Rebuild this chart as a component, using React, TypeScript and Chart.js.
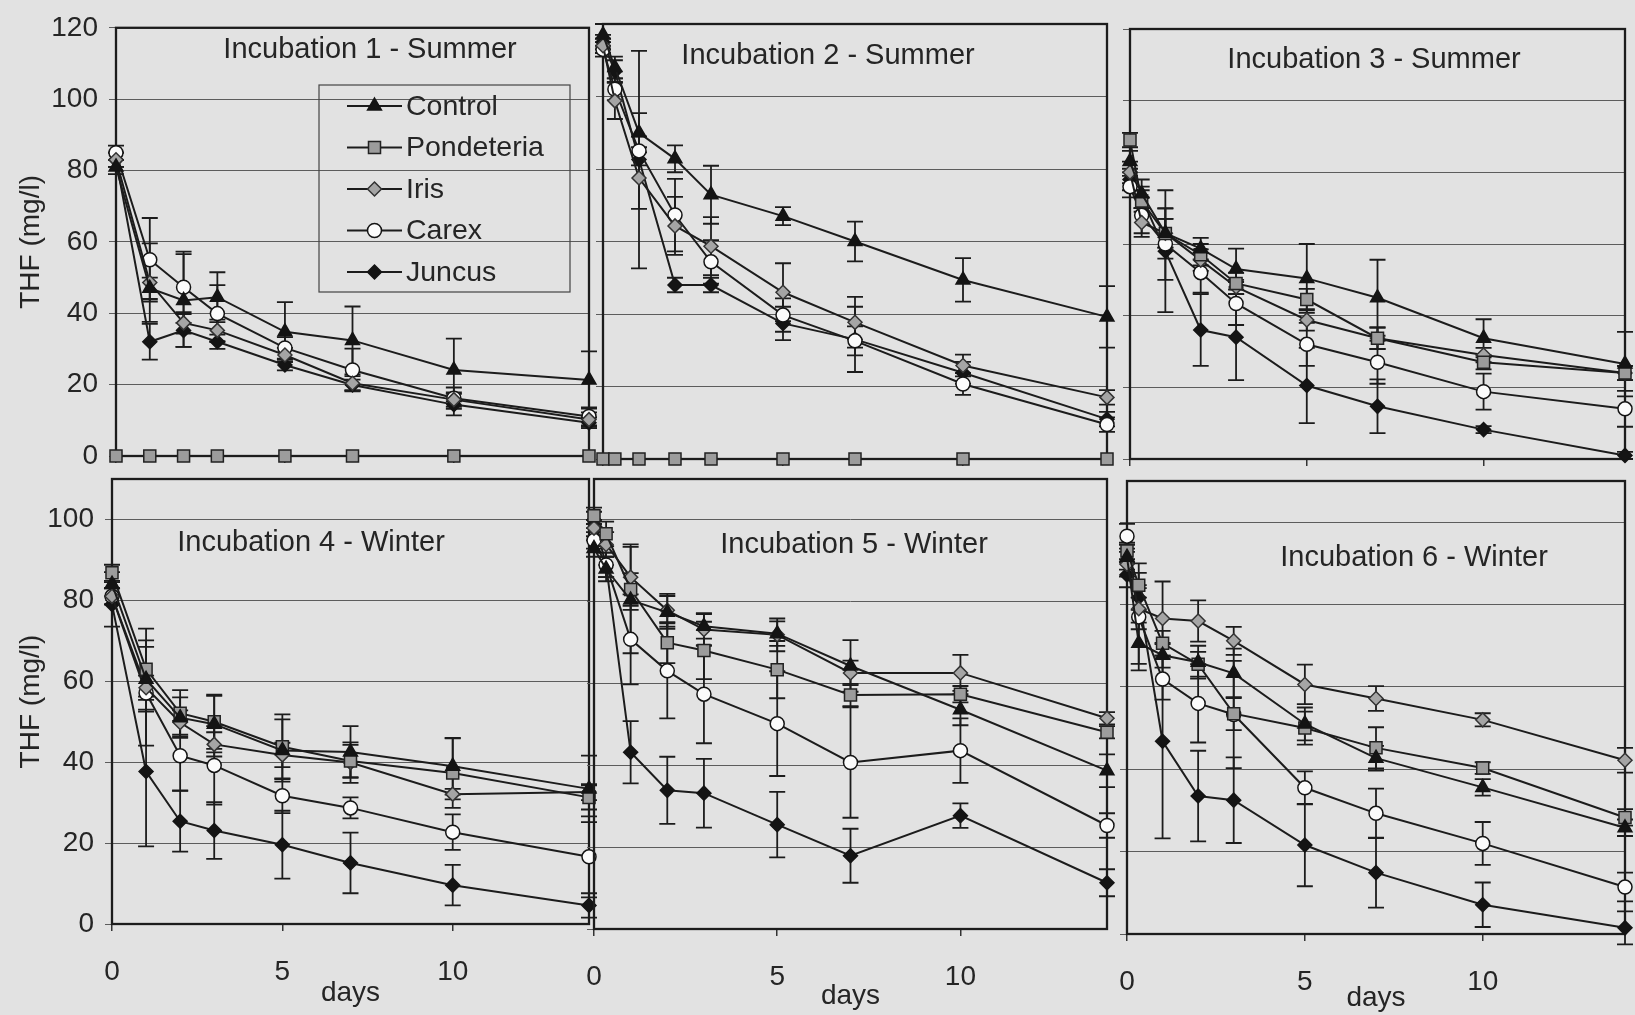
import React, { useEffect, useRef } from 'react';
import { Chart, registerables } from 'chart.js';

Chart.register(...registerables);

const FONT = '"Liberation Sans", Arial, Helvetica, sans-serif';
Chart.defaults.font.family = FONT;

// ---------------- data ----------------
const seriesNames = ['Control', 'Pondeteria', 'Iris', 'Carex', 'Juncus'];
const daysShort = [0, 1, 2, 3, 5, 7, 10, 14];
const daysLong = [0, 0.33, 1, 2, 3, 5, 7, 10, 14];
const xTickValues = [0, 5, 10];
const yTickSummer = [0, 20, 40, 60, 80, 100, 120];
const yTickWinter = [0, 20, 40, 60, 80, 100];
const panelTitles = [
  'Incubation 1 - Summer',
  'Incubation 2 - Summer',
  'Incubation 3 - Summer',
  'Incubation 4 - Winter',
  'Incubation 5 - Winter',
  'Incubation 6 - Winter',
];
const yAxisTitle = 'THF (mg/l)';
const xAxisTitle = 'days';

// Incubation 1 (days: daysShort)
const inc1Control = [81, 47, 43.6, 44.5, 34.8, 32.4, 24.1, 21.3];
const inc1ControlErr = [2, 3, 13, 7, 8.3, 9.5, 8.8, 8];
const inc1Pondeteria = [0, 0, 0, 0, 0, 0, 0, 0];
const inc1PondeteriaErr = [0, 0, 0, 0, 0, 0, 0, 0];
const inc1Iris = [83, 48.6, 37.3, 35.2, 28.3, 20.4, 15.8, 10.2];
const inc1IrisErr = [2, 11, 3, 3, 2, 2, 2, 2];
const inc1Carex = [85, 55, 47.3, 39.9, 30.3, 24.1, 16.2, 11.1];
const inc1CarexErr = [2, 11.7, 10, 8, 3, 6, 3, 2.5];
const inc1Juncus = [83, 32, 35.2, 32, 25.5, 19.9, 14.4, 9.3];
const inc1JuncusErr = [2, 5, 4.6, 2, 1.5, 1.5, 3, 1.5];

// Incubation 2 (days: daysLong)
const inc2Control = [117, 108, 90, 82.8, 72.9, 67, 60, 49.4, 39.2];
const inc2ControlErr = [3, 3, 5.4, 3.7, 8, 2.5, 5.5, 6, 8.5];
const inc2Pondeteria = [0, 0, 0, 0, 0, 0, 0, 0, 0];
const inc2PondeteriaErr = [0, 0, 0, 0, 0, 0, 0, 0, 0];
const inc2Iris = [114, 98.8, 77.5, 64.3, 58.7, 46, 37.7, 25.8, 17];
const inc2IrisErr = [2, 5, 8.5, 8, 8, 8, 7, 3, 2];
const inc2Carex = [113, 102, 85, 67.3, 54.4, 39.7, 32.6, 20.7, 9.5];
const inc2CarexErr = [2, 3, 4, 10, 6, 4.6, 4, 3, 2];
const inc2Juncus = [115, 107, 82.6, 48, 48, 37.4, 33, 23.8, 11];
const inc2JuncusErr = [2, 3, 30, 2, 2, 4.6, 9, 3, 2];

// Incubation 3 (days: daysLong)
const inc3Control = [83, 74, 63, 58.7, 53, 50.4, 45, 33.7, 26.5];
const inc3ControlErr = [3, 4, 4, 3, 5.7, 9.6, 10.6, 5.3, 9];
const inc3Pondeteria = [89, 72, 62.9, 57, 49, 44.5, 33.7, 27, 24];
const inc3PondeteriaErr = [2, 3, 7, 3, 3, 3, 3, 2, 2];
const inc3Iris = [80, 66, 63, 55.5, 48, 38.8, 33.7, 29, 24];
const inc3IrisErr = [3, 4, 4, 3, 2, 3, 3, 2, 2];
const inc3Carex = [76, 68, 60, 52, 43.4, 32, 27, 18.8, 14];
const inc3CarexErr = [3, 5, 10, 5.6, 6, 6, 6, 5, 5];
const inc3Juncus = [78, 73, 58, 36, 34, 20.5, 14.7, 8.2, 1];
const inc3JuncusErr = [3, 3, 17, 10, 12, 10.5, 7.5, 1, 1];

// Incubation 4 (days: daysShort)
const inc4Control = [84, 60.5, 51, 49.4, 42.9, 42.5, 39, 33.4];
const inc4ControlErr = [3, 8, 5, 7, 7.7, 6.4, 7, 8.2];
const inc4Pondeteria = [86.8, 63, 52.1, 50, 43.8, 40.3, 37.3, 31.3];
const inc4PondeteriaErr = [2, 10, 5.7, 6.7, 8, 4, 8.6, 3];
const inc4Iris = [81, 58.4, 49.8, 44.4, 41.8, 39.9, 32.1, 32.6];
const inc4IrisErr = [2, 3, 3, 3, 3, 5, 1.3, 2];
const inc4Carex = [81, 57.1, 41.6, 39.2, 31.7, 28.7, 22.7, 16.6];
const inc4CarexErr = [2, 13, 8.6, 9.7, 4.3, 2.6, 4.4, 10];
const inc4Juncus = [79, 37.7, 25.4, 23.1, 19.6, 15.1, 9.6, 4.6];
const inc4JuncusErr = [5.5, 18.5, 7.5, 7, 8.4, 7.5, 5, 3];

// Incubation 5 (days: daysLong)
const inc5Control = [93, 88, 80.4, 77.4, 74, 72.2, 64.3, 53.6, 38.7];
const inc5ControlErr = [2, 3, 13, 4, 3, 3, 6.3, 3.8, 4];
const inc5Pondeteria = [101, 96.6, 83, 70, 68.1, 63.4, 57.2, 57.4, 48.1];
const inc5PondeteriaErr = [2, 3, 4, 5, 7, 7, 2.7, 2, 1.5];
const inc5Iris = [98, 94, 86, 77.9, 73.2, 71.9, 62.6, 62.6, 51.5];
const inc5IrisErr = [2, 3, 8, 4, 4, 4, 3, 4.4, 1.5];
const inc5Carex = [95, 89, 70.8, 63.1, 57.4, 50.2, 40.7, 43.6, 25.3];
const inc5CarexErr = [2, 3, 11, 11.6, 12, 12.8, 13.5, 7.9, 3];
const inc5Juncus = [100, 89, 43.2, 33.9, 33.2, 25.5, 17.9, 27.7, 11.3];
const inc5JuncusErr = [2, 3, 7.6, 8.2, 8.4, 8, 6.6, 3, 3.3];

// Incubation 6 (days: daysLong)
const inc6Control = [91.5, 70.6, 67.7, 66, 63.3, 51, 42.7, 35.6, 25.8];
const inc6ControlErr = [3, 5, 3, 4, 6, 4, 3, 2, 2];
const inc6Pondeteria = [93, 84.7, 70.6, 65.5, 53.5, 50, 45.2, 40.3, 28.3];
const inc6PondeteriaErr = [2, 3, 3, 3, 4, 4, 5, 1.4, 2];
const inc6Iris = [89.8, 79, 76.6, 76, 71.2, 60.6, 57.2, 52, 42.2];
const inc6IrisErr = [3, 5, 9, 5, 3.4, 4.8, 3, 1.6, 3];
const inc6Carex = [96.6, 77, 61.9, 56, 53.3, 35.5, 29.3, 22, 11.4];
const inc6CarexErr = [3, 13, 5, 9.5, 13, 4, 6, 5.2, 3.5];
const inc6Juncus = [87.2, 81.7, 46.8, 33.5, 32.5, 21.6, 14.9, 7.1, 1.5];
const inc6JuncusErr = [3, 3, 23.6, 11, 10.4, 10, 8.5, 5.4, 4];

// ---------------- styles / layout ----------------
const BG = '#e2e2e2';
const INK = '#1c1c1c';
const TEXT = '#252525';

type MarkerStyle = { pointStyle: string; radius: number; fill: string; stroke: string };
const MARKERS: MarkerStyle[] = [
  { pointStyle: 'triangle', radius: 8, fill: '#141414', stroke: '#141414' },
  { pointStyle: 'rect', radius: 8.5, fill: '#9c9c9c', stroke: '#222' },
  { pointStyle: 'rectRot', radius: 7, fill: '#a5a5a5', stroke: '#333' },
  { pointStyle: 'circle', radius: 7, fill: '#fbfbfb', stroke: '#141414' },
  { pointStyle: 'rectRot', radius: 7, fill: '#141414', stroke: '#141414' },
];

type PanelCfg = {
  title: string;
  days: number[];
  values: number[][];
  errs: number[][];
  L: number; R: number; T: number; B: number;
  yMax: number;
  yTicks: number[];
  showY: boolean;
  showX: boolean;
  tx: number; ty: number;
  legend: boolean;
  xTitleCenter: number;
};

const PANELS: PanelCfg[] = [
  {
    title: panelTitles[0], days: daysShort,
    values: [inc1Control, inc1Pondeteria, inc1Iris, inc1Carex, inc1Juncus],
    errs: [inc1ControlErr, inc1PondeteriaErr, inc1IrisErr, inc1CarexErr, inc1JuncusErr],
    L: 116, R: 589, T: 24, B: 456, yMax: 120, yTicks: yTickSummer,
    showY: true, showX: false, tx: 370, ty: 50, legend: true, xTitleCenter: 0,
  },
  {
    title: panelTitles[1], days: daysLong,
    values: [inc2Control, inc2Pondeteria, inc2Iris, inc2Carex, inc2Juncus],
    errs: [inc2ControlErr, inc2PondeteriaErr, inc2IrisErr, inc2CarexErr, inc2JuncusErr],
    L: 603, R: 1107, T: 24, B: 459, yMax: 120, yTicks: yTickSummer,
    showY: false, showX: false, tx: 828, ty: 56, legend: false, xTitleCenter: 0,
  },
  {
    title: panelTitles[2], days: daysLong,
    values: [inc3Control, inc3Pondeteria, inc3Iris, inc3Carex, inc3Juncus],
    errs: [inc3ControlErr, inc3PondeteriaErr, inc3IrisErr, inc3CarexErr, inc3JuncusErr],
    L: 1130, R: 1633, T: 29, B: 459, yMax: 120, yTicks: yTickSummer,
    showY: false, showX: false, tx: 1374, ty: 60, legend: false, xTitleCenter: 0,
  },
  {
    title: panelTitles[3], days: daysShort,
    values: [inc4Control, inc4Pondeteria, inc4Iris, inc4Carex, inc4Juncus],
    errs: [inc4ControlErr, inc4PondeteriaErr, inc4IrisErr, inc4CarexErr, inc4JuncusErr],
    L: 112, R: 589, T: 479, B: 924, yMax: 110, yTicks: yTickWinter,
    showY: true, showX: true, tx: 311, ty: 543, legend: false, xTitleCenter: 993,
  },
  {
    title: panelTitles[4], days: daysLong,
    values: [inc5Control, inc5Pondeteria, inc5Iris, inc5Carex, inc5Juncus],
    errs: [inc5ControlErr, inc5PondeteriaErr, inc5IrisErr, inc5CarexErr, inc5JuncusErr],
    L: 594, R: 1107, T: 479, B: 929, yMax: 110, yTicks: yTickWinter,
    showY: false, showX: true, tx: 854, ty: 545, legend: false, xTitleCenter: 996,
  },
  {
    title: panelTitles[5], days: daysLong,
    values: [inc6Control, inc6Pondeteria, inc6Iris, inc6Carex, inc6Juncus],
    errs: [inc6ControlErr, inc6PondeteriaErr, inc6IrisErr, inc6CarexErr, inc6JuncusErr],
    L: 1127, R: 1630, T: 481, B: 934, yMax: 110, yTicks: yTickWinter,
    showY: false, showX: true, tx: 1414, ty: 558, legend: false, xTitleCenter: 998,
  },
];

const W = 1635;
const H = 1015;

function drawMarker(ctx: CanvasRenderingContext2D, m: MarkerStyle, x: number, y: number) {
  const r = m.radius;
  ctx.beginPath();
  if (m.pointStyle === 'triangle') {
    ctx.moveTo(x, y - r);
    ctx.lineTo(x + r * 0.866, y + r * 0.5);
    ctx.lineTo(x - r * 0.866, y + r * 0.5);
    ctx.closePath();
  } else if (m.pointStyle === 'rect') {
    const s = r * Math.SQRT1_2;
    ctx.rect(x - s, y - s, 2 * s, 2 * s);
  } else if (m.pointStyle === 'rectRot') {
    ctx.moveTo(x - r, y);
    ctx.lineTo(x, y - r);
    ctx.lineTo(x + r, y);
    ctx.lineTo(x, y + r);
    ctx.closePath();
  } else {
    ctx.arc(x, y, r, 0, Math.PI * 2);
  }
  ctx.fillStyle = m.fill;
  ctx.fill();
  ctx.lineWidth = 1.5;
  ctx.strokeStyle = m.stroke;
  ctx.stroke();
}

const decoPlugin = {
  id: 'panelDeco',
  beforeDatasetsDraw(chart: any) {
    const { ctx, chartArea: a } = chart;
    ctx.save();
    ctx.strokeStyle = INK;
    ctx.lineWidth = 2.3;
    ctx.strokeRect(a.left, a.top, a.right - a.left, a.bottom - a.top);
    const ys = chart.scales.y;
    ctx.lineWidth = 1.8;
    chart.data.datasets.forEach((ds: any, di: number) => {
      const meta = chart.getDatasetMeta(di);
      const errs: number[] = ds.errs || [];
      meta.data.forEach((el: any, i: number) => {
        const e = errs[i];
        if (!e) return;
        const v = ds.data[i].y;
        const x = el.x;
        const y1 = ys.getPixelForValue(v + e);
        const y2 = ys.getPixelForValue(v - e);
        ctx.beginPath();
        ctx.moveTo(x, y1);
        ctx.lineTo(x, y2);
        ctx.moveTo(x - 8, y1);
        ctx.lineTo(x + 8, y1);
        ctx.moveTo(x - 8, y2);
        ctx.lineTo(x + 8, y2);
        ctx.stroke();
      });
    });
    ctx.restore();
  },
  afterDraw(chart: any, _args: any, opts: any) {
    const { ctx } = chart;
    ctx.save();
    ctx.fillStyle = TEXT;
    ctx.font = `29px ${FONT}`;
    ctx.textAlign = 'center';
    ctx.textBaseline = 'middle';
    ctx.fillText(opts.title, opts.tx, opts.ty);
    if (opts.legend) {
      const bx = 319, by = 85, bw = 251, bh = 207;
      ctx.strokeStyle = '#444';
      ctx.lineWidth = 1.2;
      ctx.strokeRect(bx, by, bw, bh);
      ctx.font = `28.5px ${FONT}`;
      ctx.textAlign = 'left';
      seriesNames.forEach((name, i) => {
        const y = 106 + i * 41.5;
        ctx.beginPath();
        ctx.strokeStyle = INK;
        ctx.lineWidth = 2;
        ctx.moveTo(347, y);
        ctx.lineTo(402, y);
        ctx.stroke();
        drawMarker(ctx, MARKERS[i], 374.5, y);
        ctx.fillStyle = TEXT;
        ctx.fillText(name, 406, y + 1);
      });
    }
    ctx.restore();
  },
};

function buildConfig(p: PanelCfg): any {
  const yWidth = p.showY ? p.L - 17 : 7;
  const padLeft = p.showY ? 17 : p.L - 7;
  const xHeight = p.showX ? p.xTitleCenter + 14 - p.B : 7;
  const padBottom = H - p.B - xHeight;
  const datasets = seriesNames.map((name, si) => {
    const m = MARKERS[si];
    return {
      label: name,
      data: p.days.map((d, i) => ({ x: d, y: p.values[si][i] })),
      errs: p.errs[si],
      borderColor: INK,
      borderWidth: 2,
      pointStyle: m.pointStyle,
      pointRadius: m.radius,
      pointBackgroundColor: m.fill,
      pointBorderColor: m.stroke,
      pointBorderWidth: 1.5,
      tension: 0,
      fill: false,
      clip: false,
    };
  });
  return {
    type: 'line',
    data: { datasets },
    plugins: [decoPlugin],
    options: {
      responsive: false,
      animation: false,
      events: [],
      layout: { padding: { left: padLeft, top: p.T, right: W - p.R, bottom: padBottom } },
      plugins: {
        legend: { display: false },
        tooltip: { enabled: false },
        panelDeco: { title: p.title, tx: p.tx, ty: p.ty, legend: p.legend },
      },
      scales: {
        x: {
          type: 'linear',
          min: 0,
          max: 14,
          afterBuildTicks: (s: any) => { s.ticks = xTickValues.map((v) => ({ value: v })); },
          afterFit: (s: any) => { s.height = xHeight; },
          grid: { drawOnChartArea: false, drawTicks: true, tickLength: 7, color: '#333', lineWidth: 1.5 },
          border: { display: false },
          ticks: { display: p.showX, font: { size: 28 }, color: TEXT, padding: 24, maxRotation: 0, autoSkip: false },
          title: { display: p.showX, text: xAxisTitle, font: { size: 28, lineHeight: 1 }, color: TEXT, padding: 0 },
        },
        y: {
          type: 'linear',
          min: 0,
          max: p.yMax,
          afterBuildTicks: (s: any) => { s.ticks = p.yTicks.map((v) => ({ value: v })); },
          afterFit: (s: any) => { s.width = yWidth; },
          grid: { color: '#5c5c5c', lineWidth: 1, drawTicks: true, tickLength: 7 },
          border: { display: false },
          ticks: { display: p.showY, font: { size: 28 }, color: TEXT, padding: 11 },
          title: { display: p.showY, text: yAxisTitle, font: { size: 28, lineHeight: 1 }, color: TEXT, padding: 0 },
        },
      },
    },
  };
}

function PanelChart({ cfg }: { cfg: PanelCfg }) {
  const ref = useRef<HTMLCanvasElement>(null);
  useEffect(() => {
    if (!ref.current) return;
    const chart = new Chart(ref.current, buildConfig(cfg));
    return () => chart.destroy();
  }, [cfg]);
  return (
    <canvas
      ref={ref}
      width={W}
      height={H}
      style={{ position: 'absolute', left: 0, top: 0, width: W, height: H }}
    />
  );
}

export default function App() {
  return (
    <div style={{ position: 'absolute', left: 0, top: 0, width: W, height: H, background: BG, overflow: 'hidden' }}>
      {PANELS.map((p, i) => (
        <PanelChart key={i} cfg={p} />
      ))}
    </div>
  );
}
